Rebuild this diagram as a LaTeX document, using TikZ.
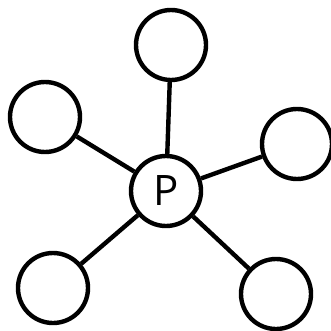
\documentclass[tikz,border=0pt]{standalone}
\usepackage{fontspec}
\setmainfont{Open Sans}
\usepackage{tikz}

\begin{document}
\begin{tikzpicture}[x=1pt,y=-1pt,line width=4.4pt]
    \useasboundingbox (0,0) rectangle (330,331);
    \tikzset{ring/.style={draw,circle,minimum size=70pt,inner sep=0pt}}

    \node[ring,font=\fontsize{42}{42}\selectfont] (p) at (166,191) {P};

    \node[ring] (top) at (171,45) {};
    \node[ring] (lft) at (45,117) {};
    \node[ring] (rgt) at (297,144) {};
    \node[ring] (bl) at (53,288) {};
    \node[ring] (br) at (276,294) {};

    \draw (p) -- (top);
    \draw (p) -- (lft);
    \draw (p) -- (rgt);
    \draw (p) -- (bl);
    \draw (p) -- (br);
\end{tikzpicture}
\end{document}
